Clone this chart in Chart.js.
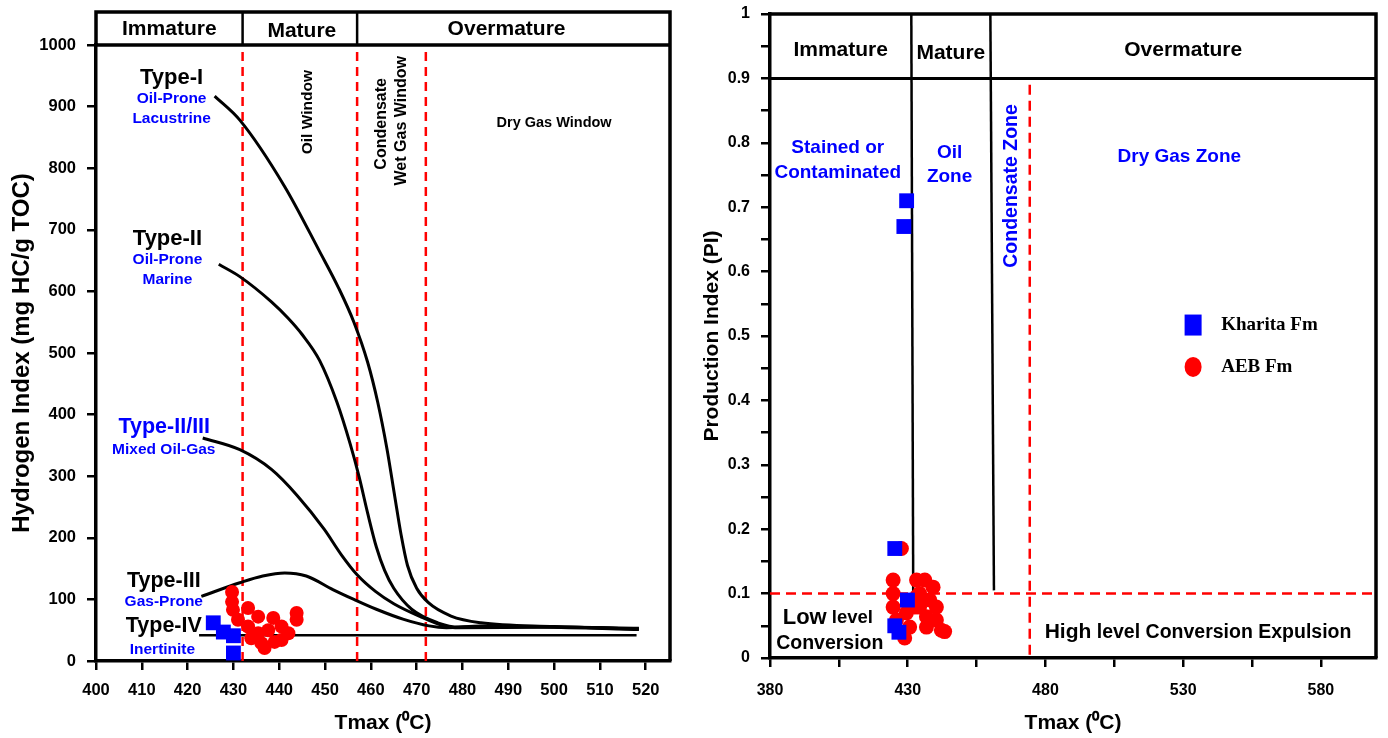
<!DOCTYPE html>
<html>
<head>
<meta charset="utf-8">
<script src="https://cdn.jsdelivr.net/npm/chart.js@4.4.1/dist/chart.umd.min.js"></script>
<style>
  body { margin: 0; background: #fff; width: 1388px; height: 738px; overflow: hidden; position: relative; }
  .panel { position: absolute; top: 0; height: 738px; }
  #leftPanel { left: 0; width: 690px; }
  #rightPanel { left: 690px; width: 698px; }
</style>
</head>
<body>
<div class="panel" id="leftPanel"><canvas id="hiChart"></canvas></div>
<div class="panel" id="rightPanel"><canvas id="piChart"></canvas></div>
<script>
// ---- left plot: HI vs Tmax ----
const hiStages = ['Immature', 'Mature', 'Overmature'];
const hiStageBounds = [432, 457];          // header dividers
const hiWindowBounds = [432, 457, 472];    // red dashed lines

const typeI   = [[425.9,917],[431.4,878],[441.2,770],[448.8,665],[453,605],[456.3,550],[459.3,485],[461.5,420],[463.5,345],[465.2,268],[466.6,205],[468,155],[470,118],[472.5,95],[477.5,73],[484,62],[500,56],[518.5,52]];
const typeII  = [[426.8,644],[431.4,624],[438.3,583],[442,556],[445,530],[448.8,488],[452.6,420],[455.5,352],[457.4,300],[459.3,240],[461.2,185],[463,147],[465,118],[468.9,84],[474.6,62],[479.4,55],[500,55],[518.5,53]];
const typeIIIII = [[423.3,362],[431.4,343],[438.3,311],[444,268],[449.8,214],[453.6,172],[457,140],[461,113],[465,93],[470.8,72],[475.5,58],[478.4,54],[500,55],[518.5,52]];
const typeIII = [[423,105],[431.4,127],[436.4,138],[441.2,143],[445.9,138],[451.7,116],[456.3,100],[461.2,84],[467,68],[472.7,57],[476.5,54],[484,57],[518.5,51]];
const typeIV  = [[422.5,42],[518,42]];

const hiTmaxKharita = [425.6, 427.8, 430, 430];
const hiKharita     = [62, 47, 41, 13];
const hiTmaxAEB = [429.7,429.7,429.9,433.2,435.4,438.7,443.8,443.8,431.0,433.2,435.4,437.6,440.5,442.0,436.1,436.8,439.0,440.5,433.9];
const hiAEB     = [112,96,83,86,72,70,78,67,67,56,45,50,56,45,29,21,31,34,37];

// ---- right plot: PI vs Tmax ----
const piStages = ['Immature', 'Mature', 'Overmature'];
const piTmaxTicks = [380, 405, 430, 455, 480, 505, 530, 555, 580];
const piImmatureLine = [[431.3,1],[432,0.1]];
const piMatureLine   = [[460,1],[461.3,0.105]];
const piHeaderLine   = [[380,0.9],[600,0.9]];
const piDryGasBound  = [[474.3,0.89],[474.3,0]];
const piLowBound     = [[380,0.1],[600,0.1]];

const piTmaxKharita = [429.6,428.6,425.3,429.9,425.3,426.8];
const piKharita     = [0.71,0.67,0.17,0.09,0.05,0.04];
const piTmaxAEB = [427.7,424.7,424.7,424.7,425.9,429.5,430.7,428.9,433.2,436.2,439.2,434.3,438,434.3,440.4,436.8,440.4,436.8,442.2,443.4,433.2,432.5];
const piAEB     = [0.17,0.121,0.10,0.079,0.059,0.07,0.048,0.031,0.121,0.121,0.11,0.10,0.09,0.079,0.079,0.064,0.059,0.048,0.043,0.041,0.095,0.079];

const BLUE = '#0000ff';
const RED = '#ff0000';
const SANS = "'Liberation Sans', Arial, sans-serif";
const SERIF = "'Liberation Serif', 'Times New Roman', serif";

const pts = arr => arr.map(([x, y]) => ({x, y}));
const zip = (xs, ys) => xs.map((x, i) => ({x, y: ys[i]}));

function curve(arr) {
    return { data: pts(arr), showLine: true, pointRadius: 0, borderColor: '#000', borderWidth: 3,
             cubicInterpolationMode: 'monotone', order: 3 };
}
function straight(arr, color, width, dash) {
    return { data: pts(arr), showLine: true, pointRadius: 0, borderColor: color, borderWidth: width,
             borderDash: dash || [], order: 4 };
}

// text drawn at data coordinates; runs = [[text, size], ...]
function drawNotes(chart, notes) {
    const {ctx, scales: {x, y}} = chart;
    notes.forEach(n => {
        ctx.save();
        ctx.translate(x.getPixelForValue(n.x), y.getPixelForValue(n.y));
        if (n.rot) ctx.rotate(n.rot);
        ctx.fillStyle = n.color || '#000';
        ctx.textBaseline = 'middle';
        const runs = n.runs || [[n.text, n.size]];
        let total = 0;
        runs.forEach(([t, s]) => { ctx.font = `bold ${s}px ${n.font || SANS}`; total += ctx.measureText(t).width; });
        let cx = n.align === 'left' ? 0 : -total / 2;
        ctx.textAlign = 'left';
        runs.forEach(([t, s]) => {
            ctx.font = `bold ${s}px ${n.font || SANS}`;
            ctx.fillText(t, cx, 0);
            cx += ctx.measureText(t).width;
        });
        ctx.restore();
    });
}

function axisScale(opts) {
    return Object.assign({
        type: 'linear',
        grid: { drawOnChartArea: false, color: '#000', tickLength: 9, lineWidth: 2.5 },
        border: { color: '#000', width: 3.5 },
    }, opts);
}

// ---------------- left chart ----------------
const hiNotes = [
    {text: 'Type-I', x: 416.5, y: 946, size: 22},
    {text: 'Oil-Prone', x: 416.5, y: 912, size: 15.5, color: BLUE},
    {text: 'Lacustrine', x: 416.5, y: 880, size: 15.5, color: BLUE},
    {text: 'Type-II', x: 415.6, y: 685, size: 22},
    {text: 'Oil-Prone', x: 415.6, y: 651, size: 15.5, color: BLUE},
    {text: 'Marine', x: 415.6, y: 619, size: 15.5, color: BLUE},
    {text: 'Type-II/III', x: 414.9, y: 379, size: 21.5, color: BLUE},
    {text: 'Mixed Oil-Gas', x: 414.8, y: 343, size: 15.5, color: BLUE},
    {text: 'Type-III', x: 414.8, y: 130, size: 21.5},
    {text: 'Gas-Prone', x: 414.8, y: 96, size: 15.5, color: BLUE},
    {text: 'Type-IV', x: 414.8, y: 56, size: 21.5},
    {text: 'Inertinite', x: 414.5, y: 19, size: 15.5, color: BLUE},
    {text: 'Oil Window', x: 446.3, y: 891, size: 15.5, rot: -Math.PI / 2},
    {text: 'Condensate', x: 462.4, y: 872, size: 16, rot: -Math.PI / 2},
    {text: 'Wet Gas Window', x: 466.6, y: 877, size: 16, rot: -Math.PI / 2},
    {text: 'Dry Gas Window', x: 500, y: 873, size: 14.5},
];

const hiFrame = {
    id: 'hiFrame',
    afterDraw(chart) {
        const {ctx, chartArea: a, scales: {x}} = chart;
        const top = a.top - 33;
        ctx.save();
        ctx.strokeStyle = '#000';
        ctx.lineWidth = 3.5;
        ctx.beginPath();
        ctx.moveTo(a.left, a.top); ctx.lineTo(a.left, top);
        ctx.lineTo(a.right, top); ctx.lineTo(a.right, a.bottom);
        ctx.moveTo(a.left, a.top); ctx.lineTo(a.right, a.top);
        ctx.stroke();
        ctx.lineWidth = 2.5;
        ctx.beginPath();
        hiStageBounds.forEach(v => {
            const px = x.getPixelForValue(v);
            ctx.moveTo(px, top); ctx.lineTo(px, a.top);
        });
        ctx.stroke();
        const edges = [a.left, ...hiStageBounds.map(v => x.getPixelForValue(v)), a.right];
        const shift = [[0, 0], [2, 2], [-7, 0]];
        ctx.fillStyle = '#000';
        ctx.font = `bold 21px ${SANS}`;
        ctx.textAlign = 'center';
        ctx.textBaseline = 'middle';
        hiStages.forEach((s, i) => ctx.fillText(s, (edges[i] + edges[i + 1]) / 2 + shift[i][0], top + 17 + shift[i][1]));
        ctx.restore();
        drawNotes(chart, hiNotes);
    }
};

new Chart(document.getElementById('hiChart'), {
    type: 'scatter',
    data: {
        datasets: [
            {data: zip(hiTmaxKharita, hiKharita), pointStyle: 'rect', pointRadius: 10.5, backgroundColor: BLUE, borderWidth: 0, order: 0},
            {data: zip(hiTmaxAEB, hiAEB), pointStyle: 'circle', pointRadius: 7, backgroundColor: RED, borderWidth: 0, order: 1},
            curve(typeI), curve(typeII), curve(typeIIIII), curve(typeIII),
            straight(typeIV, '#000', 2.5),
            ...hiWindowBounds.map(v => straight([[v, 0], [v, 1000]], RED, 2.5, [9, 6]))
        ]
    },
    options: {
        responsive: true,
        maintainAspectRatio: false,
        animation: false,
        layout: { padding: { top: 45, right: 20, left: 0, bottom: 0 } },
        plugins: { legend: { display: false }, tooltip: { enabled: false } },
        scales: {
            x: axisScale({
                min: 400, max: 525.3,
                ticks: { stepSize: 10, includeBounds: false, color: '#000', padding: 11,
                         font: { size: 16.5, weight: 'bold', family: SANS }, callback: v => String(v) },
                title: { display: true, text: 'Tmax (\u2070C)', color: '#000', font: { size: 21, weight: 'bold', family: SANS }, padding: { top: 0, bottom: 2 } },
                afterFit: s => { s.height = 77; }
            }),
            y: axisScale({
                min: 0, max: 1000,
                ticks: { stepSize: 100, color: '#000', padding: 11,
                         font: { size: 16.5, weight: 'bold', family: SANS }, callback: v => String(v) },
                title: { display: true, text: 'Hydrogen Index (mg HC/g TOC)', color: '#000', font: { size: 24, weight: 'bold', family: SANS }, padding: { top: 8, bottom: 0 } },
                afterFit: s => { s.width = 96; }
            })
        }
    },
    plugins: [hiFrame]
});

// ---------------- right chart ----------------
const piNotes = [
    {text: 'Stained or', x: 404.6, y: 0.792, size: 19, color: BLUE},
    {text: 'Contaminated', x: 404.6, y: 0.753, size: 19, color: BLUE},
    {text: 'Oil', x: 445.2, y: 0.784, size: 19, color: BLUE},
    {text: 'Zone', x: 445.2, y: 0.747, size: 19, color: BLUE},
    {text: 'Condensate Zone', x: 467.7, y: 0.733, size: 19.5, color: BLUE, rot: -Math.PI / 2},
    {text: 'Dry Gas Zone', x: 528.6, y: 0.778, size: 19, color: BLUE},
    {runs: [['Low', 22], [' level', 18.5]], x: 401, y: 0.062},
    {text: 'Conversion', x: 401.7, y: 0.023, size: 19.5},
    {runs: [['High', 21], [' level Conversion Expulsion', 19.5]], x: 535.4, y: 0.04},
    {text: 'Kharita Fm', x: 543.8, y: 0.517, size: 19, align: 'left', font: SERIF},
    {text: 'AEB Fm', x: 543.8, y: 0.452, size: 19, align: 'left', font: SERIF},
];

const piFrame = {
    id: 'piFrame',
    afterDraw(chart) {
        const {ctx, chartArea: a, scales: {x, y}} = chart;
        ctx.save();
        ctx.strokeStyle = '#000';
        ctx.lineWidth = 3.5;
        ctx.beginPath();
        ctx.moveTo(a.left, a.top); ctx.lineTo(a.right, a.top); ctx.lineTo(a.right, a.bottom);
        ctx.stroke();
        const edges = [a.left, x.getPixelForValue(piImmatureLine[0][0]), x.getPixelForValue(piMatureLine[0][0]), a.right];
        ctx.fillStyle = '#000';
        ctx.font = `bold 21px ${SANS}`;
        ctx.textAlign = 'center';
        ctx.textBaseline = 'middle';
        piStages.forEach((s, i) => ctx.fillText(s, (edges[i] + edges[i + 1]) / 2, y.getPixelForValue(i === 1 ? 0.939 : 0.944)));
        // legend
        const lx = x.getPixelForValue(533.6);
        ctx.fillStyle = BLUE;
        ctx.fillRect(lx - 8.5, y.getPixelForValue(0.517) - 10.5, 17, 21);
        ctx.fillStyle = RED;
        ctx.beginPath();
        ctx.ellipse(lx, y.getPixelForValue(0.452), 8.5, 10, 0, 0, Math.PI * 2);
        ctx.fill();
        ctx.restore();
        drawNotes(chart, piNotes);
    }
};

new Chart(document.getElementById('piChart'), {
    type: 'scatter',
    data: {
        datasets: [
            {data: zip(piTmaxKharita, piKharita), pointStyle: 'rect', pointRadius: 10.5, backgroundColor: BLUE, borderWidth: 0, order: 0},
            {data: zip(piTmaxAEB, piAEB), pointStyle: 'circle', pointRadius: 7.5, backgroundColor: RED, borderWidth: 0, order: 1},
            straight(piImmatureLine, '#000', 2.5),
            straight(piMatureLine, '#000', 2.5),
            straight(piHeaderLine, '#000', 3),
            straight(piDryGasBound, RED, 2.5, [10, 6]),
            straight(piLowBound, RED, 2.5, [10, 6])
        ]
    },
    options: {
        responsive: true,
        maintainAspectRatio: false,
        animation: false,
        layout: { padding: { top: 14, right: 12, left: 0, bottom: 0 } },
        plugins: { legend: { display: false }, tooltip: { enabled: false } },
        scales: {
            x: axisScale({
                min: 380, max: 600,
                afterBuildTicks: s => { s.ticks = piTmaxTicks.map(v => ({value: v})); },
                ticks: { autoSkip: false, color: '#000', padding: 14,
                         font: { size: 16, weight: 'bold', family: SANS },
                         callback: v => ((v - 380) % 50 === 0 ? String(v) : '') },
                title: { display: true, text: 'Tmax (\u2070C)', color: '#000', font: { size: 21, weight: 'bold', family: SANS }, padding: { top: 0, bottom: 2 } },
                afterFit: s => { s.height = 80; }
            }),
            y: axisScale({
                min: 0, max: 1,
                ticks: { stepSize: 0.05, autoSkip: false, color: '#000', padding: 11,
                         font: { size: 16, weight: 'bold', family: SANS },
                         callback: v => (Math.round(v * 20) % 2 === 0 ? String(Math.round(v * 10) / 10) : '') },
                title: { display: true, text: 'Production Index (PI)', color: '#000', font: { size: 21, weight: 'bold', family: SANS }, padding: { top: 10, bottom: 0 } },
                afterFit: s => { s.width = 80; s.paddingTop = 0; s.paddingBottom = 0; }
            })
        }
    },
    plugins: [piFrame]
});
</script>
</body>
</html>
